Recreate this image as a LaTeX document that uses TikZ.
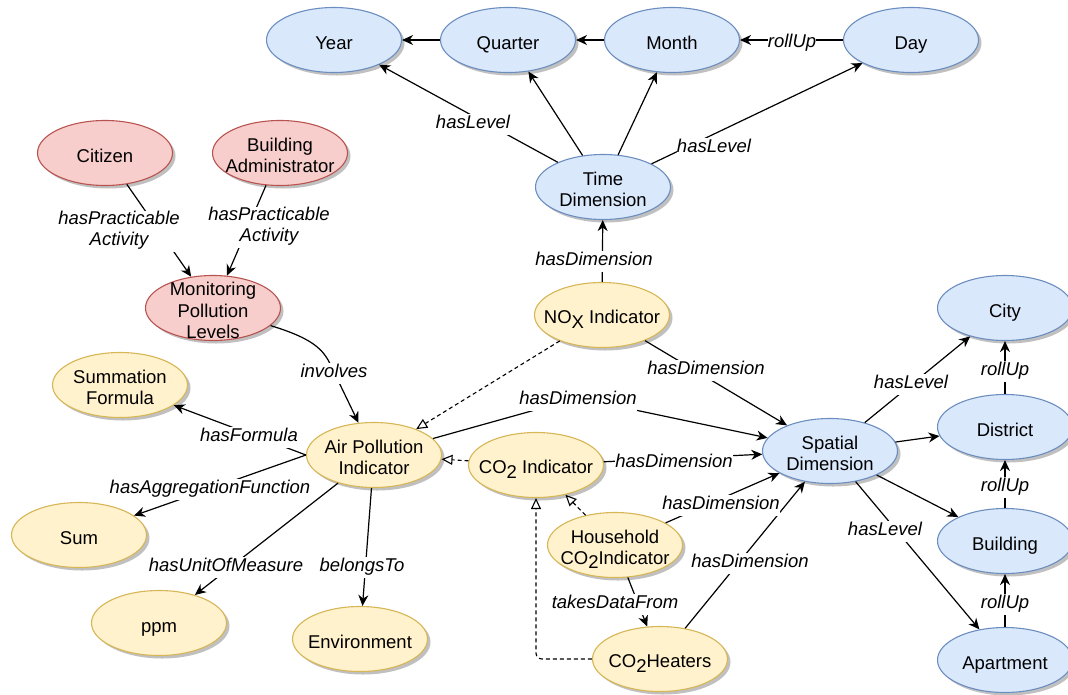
\documentclass[tikz,border=0pt]{standalone}
\usepackage{fontspec}
\setmainfont{Liberation Sans}
\usetikzlibrary{shapes.geometric,arrows.meta,shadows}

\definecolor{dimFill}{HTML}{DAE8FC}\definecolor{dimLine}{HTML}{6C8EBF}
\definecolor{actFill}{HTML}{F8CECC}\definecolor{actLine}{HTML}{B85450}
\definecolor{indFill}{HTML}{FFF2CC}\definecolor{indLine}{HTML}{D6B656}

% lowered character, as in CO2 and NOx
\newcommand{\lowr}[1]{\raisebox{-0.22em}{#1}}
% invisible struts that sit the node text a little below the centre
\newcommand{\ns}{\rule[-3.8pt]{0pt}{25.8pt}}
\newcommand{\nd}{\rule[-3.8pt]{0pt}{3.8pt}}

\tikzset{
  concept/.style={ellipse, minimum width=135pt, minimum height=65pt,
    inner sep=-30pt, align=center, line width=1.1pt,
    font=\fontsize{18.5}{21.5}\selectfont,
    execute at begin node=\ns, execute at end node=\ns,
    drop shadow={shadow xshift=3pt, shadow yshift=-3pt, fill=black!55, opacity=0.45}},
  dimnode/.style={concept, fill=dimFill, draw=dimLine},
  actnode/.style={concept, fill=actFill, draw=actLine},
  indnode/.style={concept, fill=indFill, draw=indLine},
  rel/.style={line width=1.2pt, -{Stealth[length=11pt,width=10pt,inset=3.5pt]}},
  isa/.style={line width=1.1pt, dash pattern=on 4pt off 3pt,
    -{Triangle[open,length=11pt,width=10pt,fill=white]}},
  lbl/.style={fill=white, inner sep=0pt, align=center, yshift=-2.5pt,
    font=\fontsize{18.5}{21.5}\selectfont\itshape,
    execute at begin node=\strut, execute at end node=\strut},
}

\begin{document}
\begin{tikzpicture}[x=1pt,y=-1pt]
\useasboundingbox (0,0) rectangle (1068,694);

% time hierarchy
\node[dimnode] (year)    at (334,40)  {Year};
\node[dimnode] (quarter) at (508,40)  {Quarter};
\node[dimnode] (month)   at (672,40)  {Month};
\node[dimnode] (day)     at (911,40)  {Day};
\node[dimnode] (time)    at (603,187) {\ns Time\\Dimension\nd};

% actors and activity
\node[actnode] (citizen) at (105,153) {Citizen};
\node[actnode] (admin)   at (280,153) {\ns Building\\Administrator\nd};
\node[actnode] (monitor) at (213,308) {\ns Monitoring\\Pollution\\Levels\nd};

% indicators
\node[indnode] (formula) at (120,385) {\ns Summation\\Formula\nd};
\node[indnode] (air)     at (374,455) {\ns Air Pollution\\Indicator\nd};
\node[indnode] (sum)     at (79,535)  {Sum};
\node[indnode] (ppm)     at (159,623) {ppm};
\node[indnode] (env)     at (360,639) {Environment};
\node[indnode] (nox)     at (602,315) {NO\lowr{X} Indicator};
\node[indnode] (co2)     at (536,465) {CO\lowr{2} Indicator};
\node[indnode] (house)   at (615,545) {\ns Household\\CO\lowr{2}Indicator\nd};
\node[indnode] (heat)    at (660,659) {CO\lowr{2}Heaters};

% spatial hierarchy
\node[dimnode] (spatial)  at (830,451)  {\ns Spatial\\Dimension\nd};
\node[dimnode] (city)     at (1005,308) {City};
\node[dimnode] (district) at (1005,427) {District};
\node[dimnode] (building) at (1005,541) {Building};
\node[dimnode] (apt)      at (1005,660) {Apartment};

\coordinate (bendA) at (578,398);

% relations
\draw[rel] (quarter) -- (year);
\draw[rel] (month) -- (quarter);
\draw[rel] (day) -- (month);
\draw[rel] (time) -- (year);
\draw[rel] (time) -- (quarter);
\draw[rel] (time) -- (month);
\draw[rel] (time) -- (day);
\draw[rel] (nox) -- (time);
\draw[rel] (citizen) -- (monitor);
\draw[rel] (admin) -- (monitor);
\draw[rel] (monitor.-17) .. controls (318,340) and (325,352) .. (333,370) -- (air);
\draw[rel] (air.west) -- (formula);
\draw[rel] (air.west) -- (sum);
\draw[rel] (air) -- (ppm);
\draw[rel] (air) -- (env);
\draw[rel] (air) -- (bendA) -- (spatial);
\draw[isa] (nox) -- (air);
\draw[rel] (nox) -- (spatial);
\draw[isa] (co2) -- (air);
\draw[rel] (co2) -- (spatial);
\draw[isa] (house) -- (co2);
\draw[rel] (house) -- (spatial);
\draw[rel] (house) -- (heat);
\draw[isa, rounded corners=6pt] (heat.west) -| (co2.south);
\draw[rel] (heat) -- (spatial);
\draw[rel] (spatial) -- (city);
\draw[rel] (spatial) -- (district);
\draw[rel] (spatial) -- (building);
\draw[rel] (spatial) -- (apt);
\draw[rel] (district) -- (city);
\draw[rel] (building) -- (district);
\draw[rel] (apt) -- (building);

% relation labels
\node[lbl] (l-ty)  at (473,122)  {hasLevel};
\node[lbl] (l-dm)  at (792,41)   {rollUp};
\node[lbl] (l-td)  at (714,146)  {hasLevel};
\node[lbl] (l-nt)  at (594,259)  {hasDimension};
\node[lbl] (l-cm)  at (119,229)  {hasPracticable\\Activity};
\node[lbl] (l-am)  at (269,225)  {hasPracticable\\Activity};
\node[lbl] (l-ma)  at (334,371)  {involves};
\node[lbl] (l-af)  at (249,435)  {hasFormula};
\node[lbl] (l-as)  at (210,487)  {hasAggregationFunction};
\node[lbl] (l-ap)  at (226,565)  {hasUnitOfMeasure};
\node[lbl] (l-ae)  at (362,565)  {belongsTo};
\node[lbl] (l-asp) at (bendA)    {hasDimension};
\node[lbl] (l-ns)  at (706,368)  {hasDimension};
\node[lbl] (l-cs)  at (674,461)  {hasDimension};
\node[lbl] (l-hs)  at (721,503)  {hasDimension};
\node[lbl] (l-hh)  at (615,602)  {takesDataFrom};
\node[lbl] (l-es)  at (750,561)  {hasDimension};
\node[lbl] (l-sc)  at (911,382)  {hasLevel};
\node[lbl] (l-sa)  at (885,529)  {hasLevel};
\node[lbl] (l-dc)  at (1005,369) {rollUp};
\node[lbl] (l-bd)  at (1005,485) {rollUp};
\node[lbl] (l-ab)  at (1005,602) {rollUp};
\end{tikzpicture}
\end{document}
